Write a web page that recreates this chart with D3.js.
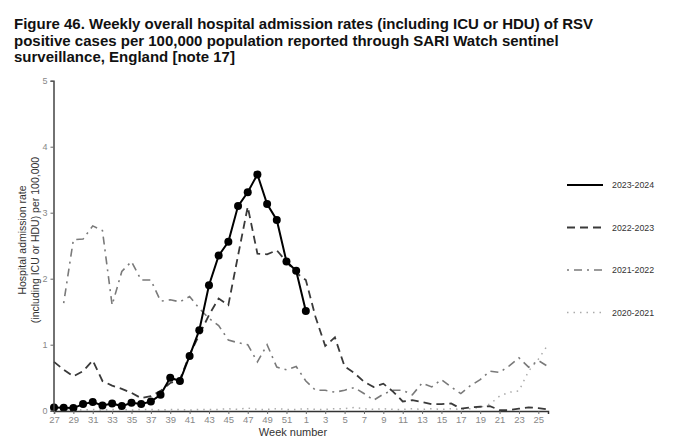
<!DOCTYPE html>
<html>
<head>
<meta charset="utf-8">
<script src="https://cdn.jsdelivr.net/npm/d3@7"></script>
<style>
  body { margin: 0; background: #fff; }
  text { font-family: "Liberation Sans", Arial, sans-serif; }
</style>
</head>
<body>
<svg id="chart" width="680" height="446"></svg>
<script>
const WEEKS = [27,28,29,30,31,32,33,34,35,36,37,38,39,40,41,42,43,44,45,46,47,48,49,50,51,52,
               1,2,3,4,5,6,7,8,9,10,11,12,13,14,15,16,17,18,19,20,21,22,23,24,25,26];
const WEEK_TICKS = [27,29,31,33,35,37,39,41,43,45,47,49,51,1,3,5,7,9,11,13,15,17,19,21,23,25];
const Y_TICKS = [0,1,2,3,4,5];

const SEASONS = ["2023-2024", "2022-2023", "2021-2022", "2020-2021"];

const S_2023_24 = [0.05,0.045,0.04,0.10,0.13,0.08,0.11,0.07,0.12,0.10,0.14,0.24,0.50,0.45,0.83,1.22,1.90,2.35,2.56,3.10,3.31,3.58,3.13,2.89,2.26,2.12,
                   1.51,null,null,null,null,null,null,null,null,null,null,null,null,null,null,null,null,null,null,null,null,null,null,null,null,null];
const S_2022_23 = [0.74,0.62,0.52,0.60,0.76,0.45,0.38,0.33,0.27,0.19,0.22,0.30,0.42,0.47,0.85,1.15,1.45,1.70,1.60,2.35,3.09,2.38,2.37,2.43,2.26,2.09,
                   1.98,1.42,0.98,1.11,0.67,0.57,0.44,0.36,0.41,0.29,0.14,0.16,0.13,0.10,0.10,0.11,0.03,0.05,0.06,0.07,0.01,0.01,0.03,0.05,0.04,0.02];
const S_2021_22 = [null,1.63,2.59,2.60,2.80,2.73,1.60,2.11,2.26,1.98,1.98,1.66,1.68,1.65,1.73,1.55,1.40,1.29,1.07,1.03,1.00,0.74,1.00,0.66,0.62,0.67,
                   0.45,0.31,0.31,0.28,0.31,0.35,0.26,0.16,0.25,0.31,0.31,0.24,0.42,0.36,0.47,0.36,0.26,0.38,0.47,0.60,0.58,0.68,0.80,0.66,0.76,0.67];
const S_2020_21 = [0.02,0.01,0.02,0.01,0.02,0.01,0.02,0.02,0.01,0.02,0.02,0.01,0.02,0.02,0.01,0.02,0.02,0.02,0.03,0.02,0.04,0.02,0.02,0.03,0.02,0.02,
                   0.03,0.02,0.02,0.03,0.03,0.05,0.03,0.02,0.03,0.02,0.02,0.03,0.02,0.03,0.02,0.03,0.02,0.03,0.05,0.10,0.22,0.28,0.30,0.60,0.78,1.00];

const TITLE = [
  "Figure 46. Weekly overall hospital admission rates (including ICU or HDU) of RSV",
  "positive cases per 100,000 population reported through SARI Watch sentinel",
  "surveillance, England [note 17]"
];

const svg = d3.select("#chart");

// title
svg.append("g").selectAll("text")
    .data(TITLE)
    .enter()
    .append("text")
    .attr("x", 14)
    .attr("y", (d, i) => 29 + i * 16.5)
    .attr("font-size", "15px")
    .attr("font-weight", "bold")
    .attr("fill", "#111")
    .text(d => d);

let x = d3.scalePoint().domain(d3.range(WEEKS.length)).range([54, 548]);
let y = d3.scaleLinear().domain([0, 5]).range([410.7, 80.7]);

// series styles
const styles = [
  {data: S_2023_24, color: "#000", width: 2, dash: null},
  {data: S_2022_23, color: "#3a3a3a", width: 1.8, dash: "8,5"},
  {data: S_2021_22, color: "#7a7a7a", width: 1.6, dash: "2,5,8,5"},
  {data: S_2020_21, color: "#ababab", width: 1.5, dash: "1.5,5"}
];

let line = d3.line()
    .defined(d => d != null)
    .x((d, i) => x(i))
    .y(d => y(d));

// draw back to front
styles.slice().reverse().forEach(s => {
  svg.append("path")
      .attr("d", line(s.data))
      .attr("fill", "none")
      .attr("stroke", s.color)
      .attr("stroke-width", s.width)
      .attr("stroke-dasharray", s.dash);
});

svg.append("g").selectAll("circle")
    .data(S_2023_24.map((v, i) => ({v, i})).filter(d => d.v != null))
    .enter()
    .append("circle")
    .attr("cx", d => x(d.i))
    .attr("cy", d => y(d.v))
    .attr("r", 4)
    .attr("fill", "#000");

// axes
let yAxis = d3.axisLeft(y).tickValues(Y_TICKS).tickSize(3).tickPadding(3).tickFormat(d3.format("d"));
let yg = svg.append("g").attr("transform", "translate(53.5,0)").call(yAxis);
yg.select(".domain").attr("stroke", "#444").attr("stroke-width", 1.5);
yg.selectAll(".tick line").attr("stroke", "#666");
yg.selectAll("text").attr("fill", "#888").attr("font-size", "9px").attr("font-family", "Liberation Sans, Arial");

let xAxis = d3.axisBottom(x)
    .tickValues(WEEK_TICKS.map(w => WEEKS.indexOf(w)))
    .tickFormat(i => WEEKS[i])
    .tickSize(3)
    .tickPadding(2);
let xg = svg.append("g").attr("transform", "translate(0,411)").call(xAxis);
xg.select(".domain").attr("stroke", "#333").attr("stroke-width", 1.5);
xg.selectAll(".tick line").attr("stroke", "#666");
xg.selectAll("text").attr("fill", "#888").attr("font-size", "9.5px").attr("font-family", "Liberation Sans, Arial");

svg.append("text")
    .attr("x", 293)
    .attr("y", 436)
    .attr("text-anchor", "middle")
    .attr("font-size", "11px")
    .attr("fill", "#333")
    .text("Week number");

let ylab = svg.append("text")
    .attr("transform", "translate(26,240) rotate(-90)")
    .attr("text-anchor", "middle")
    .attr("font-size", "10.5px")
    .attr("fill", "#333");
ylab.append("tspan").attr("x", 0).attr("dy", 0).text("Hospital admission rate");
ylab.append("tspan").attr("x", 0).attr("dy", 13).text("(including ICU or HDU) per 100,000");

// legend
let legend = svg.append("g").selectAll("g")
    .data(styles)
    .enter()
    .append("g")
    .attr("transform", (d, i) => `translate(567,${185 + i * 42.5})`);

legend.append("line")
    .attr("x1", 0).attr("x2", 36)
    .attr("y1", 0).attr("y2", 0)
    .attr("stroke", d => d.color)
    .attr("stroke-width", d => d.width)
    .attr("stroke-dasharray", d => d.dash);

legend.append("text")
    .attr("x", 45)
    .attr("y", 3)
    .attr("font-size", "8.8px")
    .attr("fill", "#333")
    .text((d, i) => SEASONS[i]);
</script>
</body>
</html>
